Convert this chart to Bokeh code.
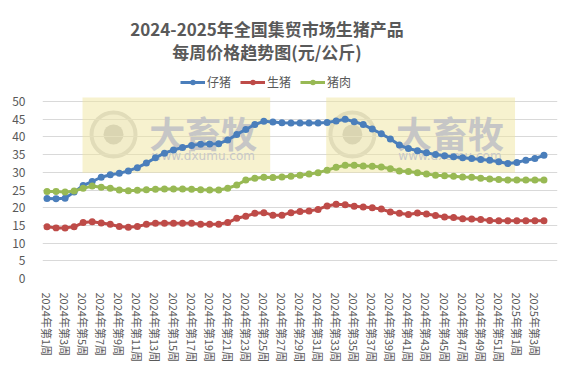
from bokeh.plotting import figure
from bokeh.models import (FixedTicker, Label, Legend, LegendItem, BoxAnnotation,
                          ColumnDataSource)
from bokeh.embed import file_html
from bokeh.resources import INLINE

# ---------------- data ----------------
weeks_2024 = list(range(1, 53))
weeks_2025 = list(range(1, 5))
week_labels = [f"2024年第{w}周" for w in weeks_2024] + [f"2025年第{w}周" for w in weeks_2025]

series_names = ["仔猪", "生猪", "猪肉"]

piglet = [22.6, 22.5, 22.7, 24.4, 26.3, 27.4, 28.6, 29.3, 29.7, 30.4,
          31.3, 32.6, 34.1, 35.4, 36.3, 37.0, 37.6, 37.9, 38.0, 38.1,
          39.1, 40.7, 42.1, 43.5, 44.4, 44.2, 44.0, 43.9, 43.9, 43.9,
          43.9, 44.1, 44.5, 45.0, 44.3, 43.5, 42.2, 40.9, 39.4, 37.7,
          36.7, 36.1, 35.5, 35.0, 34.7, 34.4, 34.1, 33.9, 33.6, 33.4,
          33.0, 32.5, 32.8, 33.4, 33.9, 34.8]

hog = [14.6, 14.3, 14.3, 14.6, 15.8, 16.0, 15.7, 15.3, 14.7, 14.5,
       14.7, 15.3, 15.6, 15.6, 15.6, 15.6, 15.6, 15.3, 15.3, 15.3,
       15.8, 17.0, 17.6, 18.4, 18.6, 17.9, 17.9, 18.6, 18.9, 19.1,
       19.5, 20.5, 21.0, 20.8, 20.4, 20.2, 20.0, 19.6, 18.8, 18.4,
       18.1, 18.5, 18.2, 17.8, 17.4, 17.2, 16.9, 16.8, 16.7, 16.4,
       16.3, 16.3, 16.3, 16.3, 16.3, 16.3]

pork = [24.6, 24.6, 24.4, 24.7, 25.5, 26.1, 25.8, 25.5, 25.0, 24.8,
        24.9, 25.1, 25.2, 25.3, 25.3, 25.3, 25.2, 25.1, 25.0, 25.0,
        25.5, 26.4, 27.8, 28.3, 28.6, 28.5, 28.7, 28.9, 29.2, 29.5,
        29.9, 30.6, 31.4, 32.0, 32.0, 31.8, 31.7, 31.5, 31.0, 30.4,
        30.2, 29.9, 29.5, 29.2, 29.0, 28.9, 28.7, 28.6, 28.3, 28.1,
        28.0, 27.8, 27.8, 27.8, 27.8, 27.8]

y_ticks = list(range(0, 51, 5))
title_lines = ["2024-2025年全国集贸市场生猪产品", "每周价格趋势图(元/公斤)"]

# ---------------- layout / style ----------------
FONT = "Noto Sans CJK SC"
TXT = "#595959"
COLORS = ["#4A7EBB", "#BE4B48", "#98B954"]

W, H = 567, 365
LEFT, RIGHT, BOTTOM = 42, 10, 87        # borders around the frame
GRID_TOP_PX = 101                       # pixel row of the top (50) gridline
frame_h = H - BOTTOM                    # frame spans the whole top
y_max = 50 * frame_h / (frame_h - GRID_TOP_PX)

x = list(range(len(week_labels)))

p = figure(width=W, height=H, output_backend="svg", toolbar_location=None,
           x_range=(-0.5, 56.5), y_range=(0, y_max), title=None,
           min_border_left=LEFT, min_border_right=RIGHT, min_border_top=0,
           min_border_bottom=BOTTOM)
p.outline_line_color = None
p.background_fill_color = "white"
p.border_fill_color = "white"

# watermark (decoration)
wm_boxes = [(3.93, 24.7), (30.9, 51.8)]
for (l, r) in wm_boxes:
    p.add_layout(BoxAnnotation(left=l, right=r, bottom=29.9, top=51.1,
                               fill_color="#EFE6A0", fill_alpha=0.5,
                               line_color=None, level="underlay"))
logo_src = ColumnDataSource(dict(x=[7.36, 33.8], y=[40.7, 40.7]))
p.scatter("x", "y", source=logo_src, size=44, fill_color="#F4F4F4",
          line_color="#D2D2D2", line_width=4, level="underlay")
p.scatter("x", "y", source=logo_src, size=20, fill_color="#C4C4C4",
          line_color=None, level="underlay")
for cx in [17.3, 44.6]:
    p.add_layout(Label(x=cx, y=41.5, text="大畜牧", text_align="center",
                       text_baseline="middle", text_font=FONT,
                       text_font_size="36px", text_font_style="bold",
                       text_color="#C6C6C6", level="underlay"))
    p.add_layout(Label(x=cx, y=34.7, text="www.dxumu.com", text_align="center",
                       text_baseline="middle", text_font="DejaVu Sans",
                       text_font_size="12px", text_color="#C8C8C8",
                       level="underlay"))

# series
items = []
for vals, color, name in zip([piglet, hog, pork], COLORS, series_names):
    src = ColumnDataSource(dict(x=x, y=vals))
    r1 = p.line("x", "y", source=src, line_color=color, line_width=3)
    r2 = p.scatter("x", "y", source=src, size=7, fill_color=color,
                   line_color=color, line_width=0)
    items.append(LegendItem(label=name, renderers=[r1, r2]))

legend = Legend(items=items, orientation="horizontal", location=(138, 188),
                border_line_color=None, background_fill_alpha=0, padding=0,
                margin=0, spacing=9, label_standoff=2, glyph_width=25,
                glyph_height=14, label_height=14, label_text_font=FONT,
                label_text_font_size="12px", label_text_color=TXT)
p.add_layout(legend)

# title: two centred lines (screen units measured from the frame's bottom-left)
for txt, ty in zip(title_lines, [frame_h - 28, frame_h - 51]):
    p.add_layout(Label(x=224.5, y=ty, x_units="screen", y_units="screen",
                       text=txt, text_align="center", text_baseline="middle",
                       text_font=FONT, text_font_size="17px",
                       text_font_style="bold", text_color=TXT))

# axes
p.xgrid.visible = False
p.ygrid.grid_line_color = "#D9D9D9"
p.ygrid.grid_line_width = 1

p.yaxis.ticker = FixedTicker(ticks=y_ticks, minor_ticks=[])
p.yaxis.axis_line_color = None
p.yaxis.major_tick_line_color = None
p.yaxis.minor_tick_line_color = None
p.yaxis.major_label_standoff = 11
p.yaxis.major_label_text_font = FONT
p.yaxis.major_label_text_font_size = "12px"
p.yaxis.major_label_text_color = TXT

p.xaxis.ticker = FixedTicker(ticks=x[::2], minor_ticks=[])
p.xaxis.major_label_overrides = {i: week_labels[i] for i in x}
p.xaxis.major_label_orientation = "vertical"
p.xaxis.axis_line_color = None
p.xaxis.major_tick_line_color = None
p.xaxis.minor_tick_line_color = None
p.xaxis.major_label_standoff = 8
p.xaxis.major_label_text_font = FONT
p.xaxis.major_label_text_font_size = "11px"
p.xaxis.major_label_text_color = TXT

with open("out.html", "w") as f:
    f.write(file_html(p, INLINE))
